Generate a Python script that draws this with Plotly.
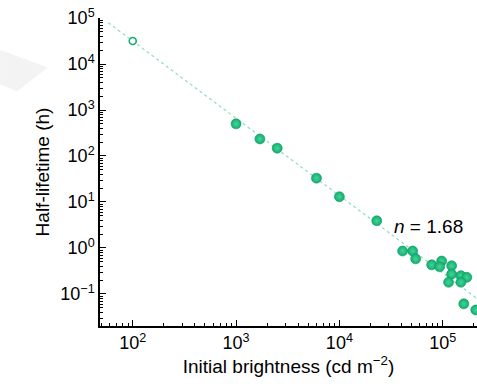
import plotly.graph_objects as go
import numpy as np

# Data
brightness = [1000, 1700, 2500, 6000, 10000, 23000, 40900, 51200, 54700, 78200,
              97700, 93500, 122000, 122000, 114000, 150000, 171000, 150000, 160000, 209000]
half_life = [500, 235, 148, 33, 13, 3.9, 0.86, 0.86, 0.58, 0.43,
             0.52, 0.39, 0.41, 0.27, 0.18, 0.25, 0.23, 0.18, 0.061, 0.045]
extrap_brightness = [100]
extrap_half_life = [31600]
fit_n = 1.68
fit_x = [58, 230000]
fit_ref_x, fit_ref_y = 100, 31600
fit_y = [fit_ref_y * (x / fit_ref_x) ** (-fit_n) for x in fit_x]

x_tickvals = [1e2, 1e3, 1e4, 1e5]
x_ticktext = ["10<sup>2</sup>", "10<sup>3</sup>", "10<sup>4</sup>", "10<sup>5</sup>"]
y_tickvals = [1e-1, 1e0, 1e1, 1e2, 1e3, 1e4, 1e5]
y_ticktext = ["10<sup>−1</sup>", "10<sup>0</sup>", "10<sup>1</sup>", "10<sup>2</sup>",
              "10<sup>3</sup>", "10<sup>4</sup>", "10<sup>5</sup>"]

green = "#12ad70"
font_family = "Liberation Sans, Arial, Helvetica, sans-serif"

fig = go.Figure()
fig.add_trace(go.Scatter(x=fit_x, y=fit_y, mode="lines",
                         line=dict(color="#8fdcc4", width=1.2, dash="dot"),
                         hoverinfo="skip", showlegend=False))
fig.add_trace(go.Scatter(x=brightness, y=half_life, mode="markers",
                         marker=dict(size=10, color=green,
                                     gradient=dict(type="radial", color="#45d598"),
                                     line=dict(color="#0f9c64", width=0.6)),
                         showlegend=False))
fig.add_trace(go.Scatter(x=extrap_brightness, y=extrap_half_life, mode="markers",
                         marker=dict(size=7, color="white",
                                     line=dict(color=green, width=1.6)),
                         showlegend=False))

fig.add_annotation(x=np.log10(3.25e4), y=np.log10(2.9), xref="x", yref="y",
                   text="<i>n</i> = 1.68", showarrow=False, xanchor="left",
                   font=dict(size=19, color="black", family=font_family))

# faint background decoration
fig.add_shape(type="path", xref="paper", yref="paper",
              path="M -0.265 0.896 L -0.138 0.839 L -0.22 0.762 L -0.265 0.785 Z",
              fillcolor="#f3f3f3", line=dict(width=0), layer="below")

axis_common = dict(type="log", showgrid=False, zeroline=False,
                   showline=True, linecolor="black", linewidth=1.5,
                   ticks="inside", ticklen=6, tickwidth=1.2, tickcolor="black",
                   tickfont=dict(size=18, color="black", family=font_family),
                   minor=dict(ticks="inside", ticklen=3, tickwidth=1, tickcolor="black",
                              dtick="D1", showgrid=False),
                   mirror=False)

fig.update_layout(
    width=477, height=386,
    margin=dict(l=100, r=0, t=18, b=60),
    paper_bgcolor="white", plot_bgcolor="white",
    xaxis=dict(axis_common, range=[1.683, 5.332],
               tickvals=x_tickvals, ticktext=x_ticktext,
               title=dict(text="Initial brightness (cd m<sup>−2</sup>)",
                          font=dict(size=19, color="black", family=font_family),
                          standoff=4)),
    yaxis=dict(axis_common, range=[-1.696, 5.0],
               tickvals=y_tickvals, ticktext=y_ticktext,
               title=dict(text="Half-lifetime (h)",
                          font=dict(size=19, color="black", family=font_family),
                          standoff=6)),
)

fig.write_html("out.html")
